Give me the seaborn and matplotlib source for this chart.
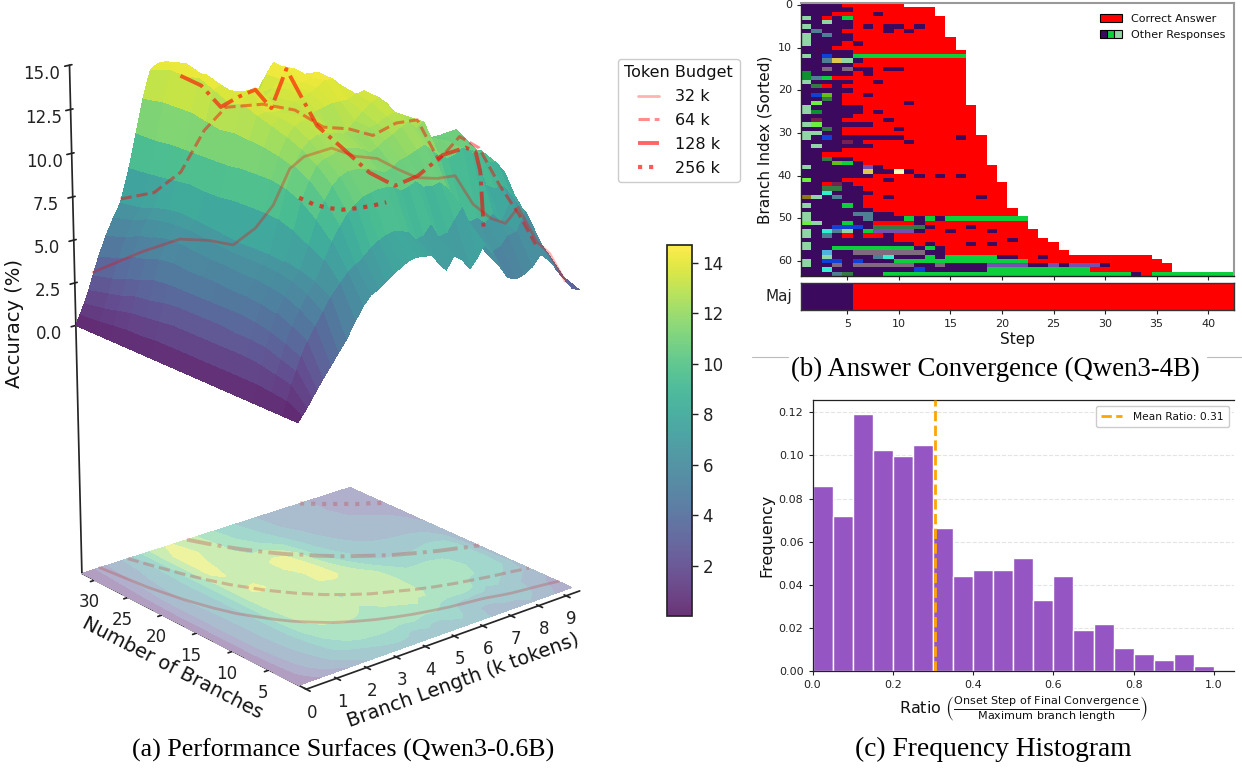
import numpy as np
import seaborn as sns
import matplotlib.pyplot as plt
from matplotlib.colors import ListedColormap, Normalize
from matplotlib.cm import ScalarMappable
from matplotlib.lines import Line2D
from matplotlib.patches import Patch
from matplotlib.legend_handler import HandlerTuple

# (a) surface: accuracy by branch length (columns) and number of branches (rows)
BRANCH_LENGTH = [0, .15, .3, .45, .6, .8, 1.05, 1.3, 1.55, 1.85, 2.1, 2.35, 2.6, 2.85, 3.1, 3.35, 3.6, 3.85, 4.1, 4.35,
                 4.6, 4.85, 5.1, 5.4, 5.65, 5.9, 6.15, 6.45, 6.7, 6.95, 7.25, 7.5, 7.8, 8.1, 8.4, 8.7, 9, 9.25, 9.5]
NUM_BRANCHES = [1, 3, 5, 7, 9, 11, 13, 15, 17, 19, 21, 23, 25, 27, 29, 32]
ACCURACY = [
    [0, .35, .7, 1.1, 1.5, 2.0, 2.6, 3.2, 3.8, 4.7, 5.4, 5.9, 6.1, 6.4, 6.7, 7.0, 7.2, 7.3, 7.2, 7.2, 6.6, 6.1, 6.8, 6.4, 5.8, 6.3, 7.0, 6.3, 5.4, 4.7, 4.5, 4.6, 4.9, 5.5, 5.0, 4.4, 3.6, 3.0, 2.8],
    [0, .8, 1.6, 2.3, 3.0, 3.7, 4.4, 5.1, 5.8, 6.4, 6.9, 7.2, 7.5, 7.9, 8.2, 8.4, 8.5, 8.4, 8.2, 7.7, 7.8, 8.3, 7.5, 7.6, 8.2, 8.8, 7.8, 6.8, 6.0, 5.8, 6.0, 6.5, 6.6, 7.6, 6.5, 5.4, 4.6, 3.7, 3.2],
    [0, .9, 1.8, 2.6, 3.4, 4.2, 5.0, 5.7, 6.3, 7.4, 8.3, 9.0, 9.6, 10.0, 10.3, 10.4, 10.5, 10.5, 10.4, 10.1, 10.2, 10.4, 10.0, 9.9, 10.0, 9.6, 8.6, 7.8, 7.3, 7.4, 7.0, 7.4, 6.8, 7.8, 6.5, 6.0, 5.4, 4.8, 4.2],
    [0, 1, 2, 2.9, 3.7, 4.6, 5.4, 6.1, 6.6, 7.9, 9.2, 10.1, 10.8, 11.2, 11.4, 11.4, 11.3, 11.2, 11.0, 10.8, 11.0, 11.3, 11.4, 11.6, 11.8, 11.4, 11.0, 10.7, 10.8, 11.1, 10.8, 10.0, 8.6, 8.3, 8.3, 7.6, 6.8, 6.2, 5.0],
    [0, 1, 2.1, 3, 3.9, 4.8, 5.6, 6.3, 6.8, 8.4, 9.9, 10.9, 11.6, 11.9, 12, 12.2, 12.2, 12.1, 11.9, 11.6, 11.8, 12.1, 12.3, 12.6, 12.8, 12.3, 12.6, 11.0, 11.4, 11.2, 10.8, 10.6, 10.3, 10.0, 9.4, 9.2, 8.5, 7.4, 5.4],
    [0, 1, 2.1, 3, 4, 4.9, 5.7, 6.4, 6.9, 8.7, 10.3, 11.4, 12.2, 12.6, 12.8, 12.8, 12.7, 12.6, 12.4, 12.2, 12.4, 12.5, 12.6, 12.9, 13.0, 12.6, 12.6, 11.2, 11.2, 10.8, 10.6, 10.9, 11.2, 10.6, 9.8, 9.6, 9.0, 7.4, 5.0],
    [0, 1, 2.1, 3.1, 4, 4.9, 5.7, 6.4, 6.9, 8.8, 10.5, 11.7, 12.6, 13.1, 13.3, 13.4, 13.3, 12.8, 12.2, 11.9, 12.1, 12.6, 13.0, 13.4, 13.6, 13.2, 12.6, 11.3, 10.5, 10.3, 10.4, 10.6, 10.6, 10.2, 9.6, 9.4, 9.0, 7.2, 4.5],
    [0, 1, 2.1, 3.1, 4, 5, 5.8, 6.4, 6.9, 8.8, 10.5, 11.9, 12.9, 13.3, 13.4, 13.2, 12.9, 13.0, 13.2, 13.3, 13.4, 13.4, 13.4, 13.6, 13.7, 13.1, 12.2, 10.9, 10, 9.6, 9.4, 9.2, 9, 9.2, 9.3, 9.2, 9, 7, 4.3],
    [0, 1, 2.1, 3.1, 4, 5, 5.8, 6.5, 7, 8.8, 10.5, 12.0, 13.2, 13.3, 13.2, 13.2, 13.3, 13.5, 13.6, 13.8, 14, 14.3, 14.3, 13.8, 12.8, 11.6, 10.5, 9.2, 8.3, 7.9, 7.7, 7.6, 7.6, 7.8, 8.0, 7.9, 7.6, 6.2, 4.3],
    [0, 1, 2.1, 3.1, 4, 5, 5.9, 6.6, 7.1, 8.7, 10.4, 12.1, 13.6, 14.2, 14.3, 13.8, 13.2, 13.4, 13.8, 13.9, 14, 14.2, 14.4, 13.2, 11.5, 10.2, 9, 8.1, 7.4, 7.0, 6.8, 6.7, 6.6, 6.6, 6.6, 6.4, 6, 5.1, 4.2],
    [0, 1, 2, 3, 4, 5.1, 6, 6.7, 7.2, 8.7, 10.4, 12, 13.4, 13.8, 13.8, 13.4, 12.9, 13.2, 13.6, 14, 14.4, 14.4, 14, 12.2, 10.2, 9.2, 8.2, 7.4, 6.8, 6.3, 6, 5.8, 5.6, 5.4, 5.2, 5, 4.8, 4.4, 4],
    [0, .9, 1.9, 2.8, 3.9, 5, 6, 6.7, 7.3, 8.8, 10.4, 12.2, 13.8, 14, 13.6, 13.2, 12.6, 12.7, 13, 14, 14.6, 14.3, 13.6, 11.6, 9.4, 8.4, 7.4, 6.8, 6.2, 5.8, 5.5, 5.2, 5, 4.8, 4.6, 4.4, 4.2, 4, 3.9],
    [0, .9, 1.8, 2.7, 3.6, 4.7, 5.8, 6.6, 7.2, 8.7, 10.4, 12.4, 14.2, 14.3, 13.8, 13.4, 13, 12.6, 12.3, 12.2, 12.4, 12.2, 11.5, 10.2, 8.8, 7.8, 6.8, 6.2, 5.7, 5.4, 5.1, 4.8, 4.6, 4.4, 4.2, 4, 3.9, 3.8, 3.8],
    [0, .8, 1.6, 2.4, 3.3, 4.5, 5.6, 6.4, 7, 8.6, 10.4, 12.4, 14, 14.2, 14, 13.6, 13.2, 12.6, 12, 11.4, 11, 10.4, 9.6, 8.8, 8, 7.2, 6.4, 5.8, 5.3, 5, 4.7, 4.5, 4.3, 4, 3.8, 3.6, 3.5, 3.6, 3.8],
    [0, .7, 1.4, 2.2, 3, 4.1, 5.2, 6, 6.7, 8.5, 10.3, 12.4, 14.1, 14.3, 14.3, 13.9, 13.4, 12.6, 11.8, 11, 10.2, 9.5, 8.8, 8.1, 7.4, 6.6, 5.9, 5.4, 4.9, 4.6, 4.4, 4.2, 4.1, 3.8, 3.6, 3.5, 3.4, 3.5, 3.6],
    [0, .6, 1.2, 1.9, 2.7, 3.7, 4.8, 5.7, 6.5, 8.4, 10.3, 12.2, 13.7, 14, 14, 13.6, 13, 12.3, 11.5, 10.6, 9.8, 9.1, 8.4, 7.7, 7, 6.3, 5.6, 5.1, 4.7, 4.4, 4.2, 4.1, 4.1, 3.8, 3.5, 3.4, 3.3, 3.3, 3.3],
]
CONTOUR_LEVELS = [0, 2, 4, 6, 8, 10, 12, 14, 16]

# token budget curves on the surface
K32_X = [.6, .8, 1.05, 1.3, 1.55, 1.85, 2.1, 2.35, 2.6, 3.1, 3.6, 4.1, 4.6, 5.1, 5.65, 6.15, 6.7, 7.25, 7.65, 8.0, 8.6, 9, 9.5]
K32_Y = [32, 25.6, 21.3, 18.3, 16, 14.2, 12.8, 11.6, 10.7, 9.1, 8, 7.1, 6.4, 5.8, 5.3, 4.9, 4.6, 4.3, 3.9, 3.6, 3.3, 3.1, 2.8]
K32_Z = [2.85, 5.0, 6.3, 6.6, 6.6, 7.7, 9.1, 11.2, 11.9, 12.4, 11.9, 11.7, 11.0, 10.4, 10.2, 10.2, 8.4, 7.4, 7.0, 7.8, 5.6, 4.8, 3.0]
K64_X = [1.55, 1.85, 2.1, 2.35, 2.6, 3.1, 3.6, 4.1, 4.6, 5.1, 5.65, 6.15, 6.7, 7.25, 7.8, 8.4, 9, 9.5]
K64_Y = [32, 28.4, 25.6, 23.3, 21.3, 18.3, 16, 14.2, 12.8, 11.6, 10.7, 9.85, 9.1, 8.5, 8, 7.5, 7.1, 6.7]
K64_Z = [6.7, 7.5, 9.0, 11.6, 13.1, 13.5, 13.3, 12.4, 12.3, 11.9, 12.5, 12.6, 10.2, 11.4, 10.6, 8.3, 6.4, 4.5]
K128_X = [3.6, 3.85, 4.1, 4.35, 4.6, 4.85, 5.1, 5.4, 5.65, 6.15, 6.7, 7.25, 7.8, 8.4, 9, 9.25, 9.4, 9.5]
K128_Y = [32, 30.1, 28.4, 26.9, 25.6, 24.4, 23.3, 22.3, 21.3, 19.7, 18.3, 17, 16, 15, 14.2, 13.8, 13.7, 13.5]
K128_Z = [13.0, 12.6, 11.5, 12.2, 12.7, 11.7, 14.0, 12.3, 10.8, 9.5, 8.1, 7.3, 7.8, 8.9, 9.2, 8.9, 7.7, 4.3]
K256_X = [7.65, 7.95, 8.25, 8.55, 8.85, 9.2, 9.5]
K256_Y = [32, 31, 30.1, 29.3, 28.4, 27.7, 26.9]
K256_Z = [4.1, 3.7, 3.5, 3.4, 3.5, 3.6, 3.8]

# (b) answers per branch and step, cell codes, each row filled with red up to its end
ROW_END = [10, 13, 13, 14, 14, 14, 14, 14, 15, 15, 15, 16, 16, 16, 16, 16, 16, 16, 16, 16, 16, 16, 16, 16,
           17, 17, 17, 17, 17, 17, 17, 18, 18, 18, 18, 18, 18, 18, 19, 19, 19, 19, 20, 20, 20, 20, 20, 20,
           21, 21, 22, 22, 22, 23, 23, 24, 25, 25, 26, 34, 35, 36, 36, 42]
ROW_CELLS = [
    "DDDD", "DDDDD", "DDDRRRRD", "MDRDG", "DDMDD", "MDDDDRDRDDRD", "DSDDRRRRDRD", "MDSDD",
    "MDDDD", "MDDDRD", "DDD", "DDDDD", "MDBDDGGGGGGGGGGG", "DDSYMD", "DDDDD", "DDHDHDDRDD",
    "EDDDDRD", "ESGR", "MDDDDRRD", "DTRDR", "DDDDD", "DBODRRD", "DDTDR", "DLDDRRRRRRD",
    "MDDDDD", "MEDDDDRD", "DDDDD", "DNDDRRRRD", "MLDDDDD", "DDTDRRRRRD", "MMDDR", "MDBDDDDDDDRRRRRD",
    "DDDDNDRRRRD", "DMDDDDD", "DDDD", "DD", "DDTDD", "DDDOGD", "MDDDDDVD", "DDDDDDYDDWD",
    "DDDDDDDRRRRDRDRD", "LDDDRRRRD", "DDRNDR", "DDTTDD", "DDCDDDD", "KMDSDDRRDRRRRRRRRD", "DDDDDD", "MDDDGD",
    "DDDDDDD", "MDDDDSSDD", "MDDDDDSDDDGDGDGGGGGGGG", "LMDDGDDRRRRD", "DDDBBBDTTTTTDRRRD", "MDCSMDGVVVVDRRDRRRD",
    "MDSDRDRRD", "DDDDDDDDDRRRRRRRRRRRD", "MDDDDDDDDDDRDRRRDRD", "MDDGGGGGGGGDGD", "DDADDHHHHHHHDD",
    "DDMDDDDSCDDDGDGGGGGDDRRD", "MDBBDBDDDGGGGGGGGGGGGG", "MDDHDHHHHHHDDHDDDDVVVVDDVDVVVD",
    "DDCDDDDDDDDBDDDDDDGGGGGGGGGG", "DDDSTDDDGGGGGGGGGGGGGGGGGGGGGGGGDRGGGGGGGG",
]
MAJORITY = "DDDDD" + "R" * 37
CODES = "DRGMSBTLOYWCVHNKEA"
CODE_COLORS = ["#3b0a5f", "#ff0000", "#0ccf3b", "#8fd5a6", "#4f7f95", "#1040d8", "#347a44", "#6cf040", "#60c018",
               "#dcc850", "#f4ffb8", "#30f0d0", "#7550b0", "#806a80", "#782050", "#907818", "#0f9030", "#50b0e0"]

# (c) histogram
BIN_EDGES = [0, .05, .1, .15, .2, .25, .3, .35, .4, .45, .5, .55, .6, .65, .7, .75, .8, .85, .9, .95, 1.0]
BIN_CENTERS = [.025, .075, .125, .175, .225, .275, .325, .375, .425, .475, .525, .575, .625, .675, .725, .775, .825, .875, .925, .975]
FREQUENCY = [.086, .072, .119, .1025, .0995, .105, .0662, .044, .047, .047, .0523, .033, .044, .019, .022, .0108, .008, .0052, .008, .0025]
MEAN_RATIO = 0.305

W, H = 1242, 770


def rect(x0, y0, x1, y1):
    # pixel box (top-left origin) to figure fractions
    return [x0 / W, 1 - y1 / H, (x1 - x0) / W, (y1 - y0) / H]


def to_codes(cells):
    return [CODES.index(c) for c in cells]


def washed(cmap, alpha):
    # same colours laid over white, so facets show no seams
    rgb = cmap(np.linspace(0, 1, 256))[:, :3]
    return ListedColormap(alpha * rgb + (1 - alpha))


sns.set_theme(style="white", font="DejaVu Sans")
plt.rcParams["text.color"] = "#111111"
plt.rcParams["axes.labelcolor"] = "#111111"
plt.rcParams["xtick.color"] = "#222222"
plt.rcParams["ytick.color"] = "#222222"

fig = plt.figure(figsize=(W / 100, H / 100), dpi=100)
viridis = sns.color_palette("viridis", as_cmap=True)
red = (1, 0, 0)

# ---------- (a) 3D surface ----------
ax = fig.add_axes(rect(-30, -7.5, 670, 692.5), projection="3d", computed_zorder=False)
X, Y = np.meshgrid(BRANCH_LENGTH, NUM_BRANCHES)
Z = np.array(ACCURACY)
FLOOR = -15
ax.contourf(X, Y, Z, zdir="z", offset=FLOOR, levels=CONTOUR_LEVELS, cmap=washed(viridis, 0.42), antialiased=False, zorder=1)
ax.plot_surface(X, Y, Z, cmap=washed(viridis, 0.85), vmin=0.02, vmax=14.7, rstride=1, cstride=1,
                linewidth=0, antialiased=False, shade=False, zorder=2)

curves = [(K32_X, K32_Y, K32_Z, "-", 2.0, 0.3),
          (K64_X, K64_Y, K64_Z, "--", 2.2, 0.45),
          (K128_X, K128_Y, K128_Z, "-.", 2.8, 0.6),
          (K256_X, K256_Y, K256_Z, ":", 3.0, 0.65)]
for cx, cy, cz, ls, lw, alpha in curves:
    ax.plot(cx, cy, cz, color=red, ls=ls, lw=lw, alpha=alpha, zorder=4)
    ax.plot(cx, cy, [FLOOR] * len(cx), color="#c05050", ls=ls, lw=lw, alpha=0.35, zorder=3)

ax.set_xlim(0, 9.5, view_margin=0)
ax.set_ylim(0, 32, view_margin=0)
ax.set_zlim(FLOOR, 15, view_margin=0)
ax.view_init(elev=20, azim=-130)
ax.set_box_aspect((1, 1, 1.5), zoom=1.035)
ax.grid(False)
ax.set_xticks(range(0, 10))
ax.set_yticks(range(5, 31, 5))
ax.set_zticks([0, 2.5, 5, 7.5, 10, 12.5, 15])
ax.set_zticklabels(["0.0", "2.5", "5.0", "7.5", "10.0", "12.5", "15.0"])
ax.tick_params(axis="x", labelsize=12, pad=-2)
ax.tick_params(axis="y", labelsize=12, pad=-2)
ax.tick_params(axis="z", labelsize=12, pad=6)
for axis in (ax.xaxis, ax.yaxis, ax.zaxis):
    axis.set_pane_color((1, 1, 1, 0))
    axis.pane.set_edgecolor("#e8e8e8")
ax.set_xlabel("Branch Length (k tokens)", fontsize=14, labelpad=-3)
ax.set_ylabel("Number of Branches", fontsize=14, labelpad=-4)
ax.zaxis.set_rotate_label(False)
ax.set_zlabel("Accuracy (%)", fontsize=14, labelpad=11, rotation=90)

# colorbar
cax = fig.add_axes(rect(667, 245, 692, 616))
sm = ScalarMappable(norm=Normalize(0.02, 14.7), cmap=viridis)
cbar = fig.colorbar(sm, cax=cax, alpha=0.8)
cbar.set_ticks([2, 4, 6, 8, 10, 12, 14])
cbar.ax.tick_params(labelsize=12, length=4, width=1, left=False, right=True)

# token budget legend
handles = [Line2D([], [], color=red, ls=ls, lw=lw, alpha=alpha) for _, _, _, ls, lw, alpha in curves]
fig.legend(handles, ["32 k", "64 k", "128 k", "256 k"], title="Token Budget", fontsize=11.5, title_fontsize=11.5,
           loc="upper left", bbox_to_anchor=(618 / W, 1 - 59 / H), borderaxespad=0, handlelength=1.3,
           handletextpad=1.0, labelspacing=0.55, framealpha=1)

# ---------- (b) answer heatmap ----------
ax_b = fig.add_axes(rect(801, 3, 1234, 276))
cells = np.full((len(ROW_CELLS), 42), np.nan)
for i, (row, end) in enumerate(zip(ROW_CELLS, ROW_END)):
    cells[i, :end] = to_codes(row.ljust(end, "R"))
answer_cmap = ListedColormap(CODE_COLORS)
sns.heatmap(cells, ax=ax_b, cmap=answer_cmap, vmin=-0.5, vmax=len(CODES) - 0.5, cbar=False)
ax_b.set_xticks([i - 0.5 for i in range(5, 41, 5)])
ax_b.set_xticklabels([])
ax_b.set_yticks([i + 0.5 for i in range(0, 61, 10)])
ax_b.set_yticklabels(range(0, 61, 10), rotation=0, fontsize=8)
ax_b.tick_params(left=True, bottom=True, length=3, width=0.8)
ax_b.set_ylabel("Branch Index (Sorted)", fontsize=11, labelpad=4)
for name, spine in ax_b.spines.items():
    spine.set_visible(True)
    spine.set_color("#222222" if name in ("left", "bottom") else "#999999")
    spine.set_linewidth(1.0 if name in ("left", "bottom") else 1.5)

legend_handles = [Patch(facecolor=red, edgecolor="black", lw=0.8),
                  (Patch(facecolor="#3b0a5f", edgecolor="black", lw=0.8),
                   Patch(facecolor="#0ccf3b", edgecolor="black", lw=0.8),
                   Patch(facecolor="#8fd5a6", edgecolor="black", lw=0.8))]
ax_b.legend(legend_handles, ["Correct Answer", "Other Responses"], loc="upper right", fontsize=8, frameon=False,
            handler_map={tuple: HandlerTuple(ndivide=None, pad=0)}, bbox_to_anchor=(0.995, 0.985),
            labelspacing=0.55, borderaxespad=0.2)

ax_m = fig.add_axes(rect(801, 283, 1234, 310))
sns.heatmap([to_codes(MAJORITY)], ax=ax_m, cmap=answer_cmap, vmin=-0.5, vmax=len(CODES) - 0.5, cbar=False)
ax_m.set_xticks([i - 0.5 for i in range(5, 41, 5)])
ax_m.set_xticklabels(range(5, 41, 5), fontsize=8, rotation=0)
ax_m.set_yticks([0.5])
ax_m.set_yticklabels(["Maj"], rotation=0, fontsize=11)
ax_m.tick_params(left=False, bottom=True, length=3, width=0.8)
ax_m.set_xlabel("Step", fontsize=11, labelpad=2)
for spine in ax_m.spines.values():
    spine.set_visible(True)
    spine.set_color("#333333")
    spine.set_linewidth(1.0)

# ---------- (c) histogram ----------
ax_c = fig.add_axes(rect(812.5, 400, 1234, 671))
sns.histplot(x=BIN_CENTERS, weights=FREQUENCY, bins=BIN_EDGES, color="#9556c3", edgecolor="white",
             linewidth=1.0, alpha=1, ax=ax_c, zorder=2)
ax_c.axvline(MEAN_RATIO, color="orange", ls="--", lw=2, zorder=3, label="Mean Ratio: 0.31")
ax_c.set_xlim(0, 1.05)
ax_c.set_ylim(0, 0.1257)
ax_c.set_yticks([0, .02, .04, .06, .08, .10, .12])
ax_c.set_yticklabels(["0.00", "0.02", "0.04", "0.06", "0.08", "0.10", "0.12"])
ax_c.set_xticks([0, .2, .4, .6, .8, 1.0])
ax_c.tick_params(labelsize=8, left=True, bottom=True, length=3, width=0.8)
ax_c.yaxis.grid(True, ls="--", color="#e4e4e4", lw=0.8, zorder=0)
ax_c.set_axisbelow(True)
ax_c.spines["right"].set_visible(False)
for name in ("left", "bottom", "top"):
    ax_c.spines[name].set_color("#222222")
    ax_c.spines[name].set_linewidth(0.9)
ax_c.set_ylabel("Frequency", fontsize=11.5, labelpad=3)
ax_c.set_xlabel(r"Ratio $\left(\frac{\mathrm{Onset\ Step\ of\ Final\ Convergence}}{\mathrm{Maximum\ branch\ length}}\right)$",
                fontsize=11.5, labelpad=3)
ax_c.legend(loc="upper right", fontsize=7.7, framealpha=1, bbox_to_anchor=(0.993, 0.985), borderaxespad=0.2,
            borderpad=0.5, handletextpad=1.0)

# ---------- captions ----------
caption = dict(family="Liberation Serif", ha="center", va="center", color="black")
fig.text(343 / W, 1 - 750 / H, "(a) Performance Surfaces (Qwen3-0.6B)", fontsize=18.7, **caption)
fig.text(995 / W, 1 - 369 / H, "(b) Answer Convergence (Qwen3-4B)", fontsize=19.3, **caption)
fig.text(993 / W, 1 - 749 / H, "(c) Frequency Histogram", fontsize=19.8, **caption)
for x0, x1 in [(752, 788), (1207, 1242)]:
    fig.add_artist(Line2D([x0 / W, x1 / W], [1 - 357 / H] * 2, color="#bbbbbb", lw=0.8))

fig.savefig("out.png", dpi=100)
